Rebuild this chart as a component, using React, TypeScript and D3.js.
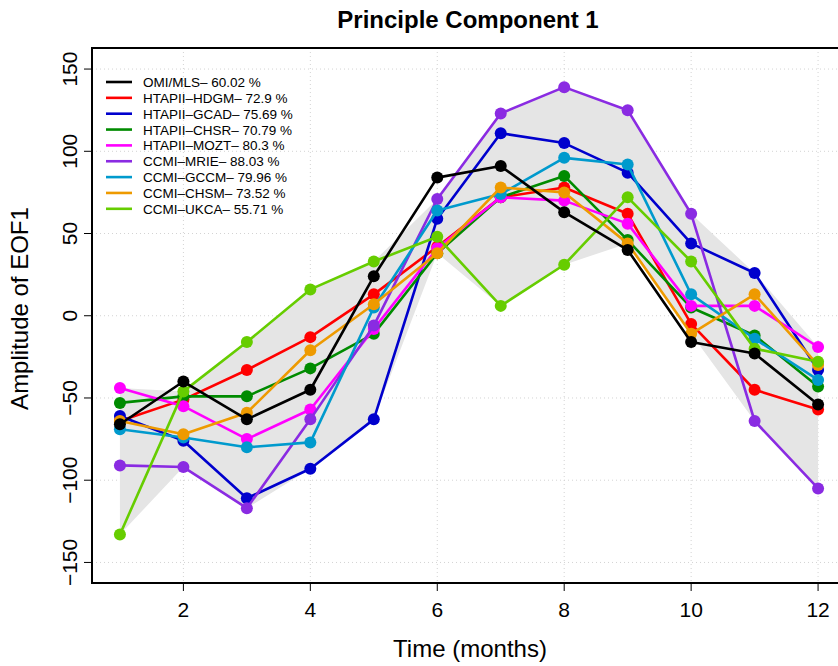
import React from "react";
import * as d3 from "d3";

const months = [1, 2, 3, 4, 5, 6, 7, 8, 9, 10, 11, 12];
const seriesNames = [
  "OMI/MLS– 60.02 %",
  "HTAPII–HDGM– 72.9 %",
  "HTAPII–GCAD– 75.69 %",
  "HTAPII–CHSR– 70.79 %",
  "HTAPII–MOZT– 80.3 %",
  "CCMI–MRIE– 88.03 %",
  "CCMI–GCCM– 79.96 %",
  "CCMI–CHSM– 73.52 %",
  "CCMI–UKCA– 55.71 %",
];
const seriesColors = ["#000000", "#ff0000", "#0000cd", "#008b00", "#ff00ff", "#8a2be2", "#009acd", "#ee9a00", "#66cd00"];

const omiMls = [-66, -40, -63, -45, 24, 84, 91, 63, 40, -16, -23, -54];
const hdgm = [-64, -51, -33, -13, 13, 42, 72, 78, 62, -5, -45, -57];
const gcad = [-61, -76, -111, -93, -63, 59, 111, 105, 87, 44, 26, -33];
const chsr = [-53, -49, -49, -32, -11, 38, 72, 85, 46, 5, -12, -43];
const mozt = [-44, -55, -75, -57, -8, 41, 72, 70, 56, 6, 6, -19];
const mrie = [-91, -92, -117, -63, -6, 71, 123, 139, 125, 62, -64, -105];
const gccm = [-69, -74, -80, -77, 5, 64, 74, 96, 92, 13, -14, -39];
const chsm = [-64, -72, -59, -21, 7, 38, 78, 75, 44, -11, 13, -30];
const ukca = [-133, -46, -16, 16, 33, 48, 6, 31, 72, 33, -20, -28];

const seriesValues = [omiMls, hdgm, gcad, chsr, mozt, mrie, gccm, chsm, ukca];

const xTicks = [2, 4, 6, 8, 10, 12];
const yTicks = [-150, -100, -50, 0, 50, 100, 150];

export default function App() {
  const W = 838;
  const H = 666;
  const left = 92, right = 846, top = 48, bottom = 583;
  const x = d3.scaleLinear().domain([0.56, 12.44]).range([left, right]);
  const y = d3.scaleLinear().domain([-162.5, 162.8]).range([bottom, top]);
  const font = "'Liberation Sans', Arial, Helvetica, sans-serif";

  const models = seriesValues.slice(1);
  const upper = months.map((_, i) => d3.max(models, (s) => s[i]) as number);
  const lower = months.map((_, i) => d3.min(models, (s) => s[i]) as number);
  const band = d3
    .area<number>()
    .x((_, i) => x(months[i]))
    .y0((_, i) => y(lower[i]))
    .y1((_, i) => y(upper[i]));

  const line = d3
    .line<number>()
    .x((_, i) => x(months[i]))
    .y((d) => y(d));

  // draw models in legend order, OMI last
  const order = [1, 2, 3, 4, 5, 6, 7, 8, 0];

  return (
    <svg width={W} height={H} style={{ position: "absolute", left: 0, top: 0, display: "block" }}>
      <rect x={0} y={0} width={W} height={H} fill="#ffffff" />
      <defs>
        <clipPath id="plotclip">
          <rect x={left} y={top} width={right - left} height={bottom - top} />
        </clipPath>
      </defs>
      {/* grid */}
      <g stroke="#d3d3d3" strokeWidth={1} strokeDasharray="1,3">
        {xTicks.map((t) => (
          <line key={"gx" + t} x1={x(t)} x2={x(t)} y1={top} y2={bottom} />
        ))}
        {yTicks.map((t) => (
          <line key={"gy" + t} x1={left} x2={right} y1={y(t)} y2={y(t)} />
        ))}
      </g>
      <g clipPath="url(#plotclip)">
        <path d={band(upper) || ""} fill="#e5e5e5" stroke="none" />
        {order.map((k) => (
          <g key={"s" + k}>
            <path d={line(seriesValues[k]) || ""} fill="none" stroke={seriesColors[k]} strokeWidth={2.6} strokeLinejoin="round" />
            {seriesValues[k].map((v, i) => (
              <circle key={i} cx={x(months[i])} cy={y(v)} r={6} fill={seriesColors[k]} />
            ))}
          </g>
        ))}
      </g>
      {/* box */}
      <rect x={left} y={top} width={right - left} height={bottom - top} fill="none" stroke="#000" strokeWidth={2} />
      {/* axes */}
      <g fontFamily={font} fontSize={21} fill="#000">
        {xTicks.map((t) => (
          <g key={"xt" + t}>
            <line x1={x(t)} x2={x(t)} y1={bottom} y2={bottom + 8} stroke="#000" strokeWidth={1} />
            <text x={x(t)} y={617} textAnchor="middle">
              {t}
            </text>
          </g>
        ))}
        {yTicks.map((t) => (
          <g key={"yt" + t}>
            <line x1={left - 8} x2={left} y1={y(t)} y2={y(t)} stroke="#000" strokeWidth={1} />
            <text x={0} y={0} textAnchor="middle" transform={`translate(77,${y(t)}) rotate(-90)`}>
              {t === 0 ? "0" : t < 0 ? "−" + Math.abs(t) : String(t)}
            </text>
          </g>
        ))}
      </g>
      {/* axis titles */}
      <text x={(left + right) / 2 + 1} y={657} fontFamily={font} fontSize={24} textAnchor="middle">
        Time (months)
      </text>
      <text
        x={0}
        y={0}
        fontFamily={font}
        fontSize={24}
        textAnchor="middle"
        transform={`translate(28,${(top + bottom) / 2 - 7}) rotate(-90)`}
      >
        Amplitude of EOF1
      </text>
      <text x={468} y={28} fontFamily={font} fontSize={24} fontWeight="bold" textAnchor="middle">
        Principle Component 1
      </text>
      {/* legend */}
      <g fontFamily={font} fontSize={13.5}>
        {seriesNames.map((n, i) => (
          <g key={"lg" + i}>
            <line x1={106} x2={132} y1={82 + i * 15.85} y2={82 + i * 15.85} stroke={seriesColors[i]} strokeWidth={2.6} />
            <text x={143} y={82 + i * 15.85 + 5} fill="#000">
              {n}
            </text>
          </g>
        ))}
      </g>
    </svg>
  );
}
